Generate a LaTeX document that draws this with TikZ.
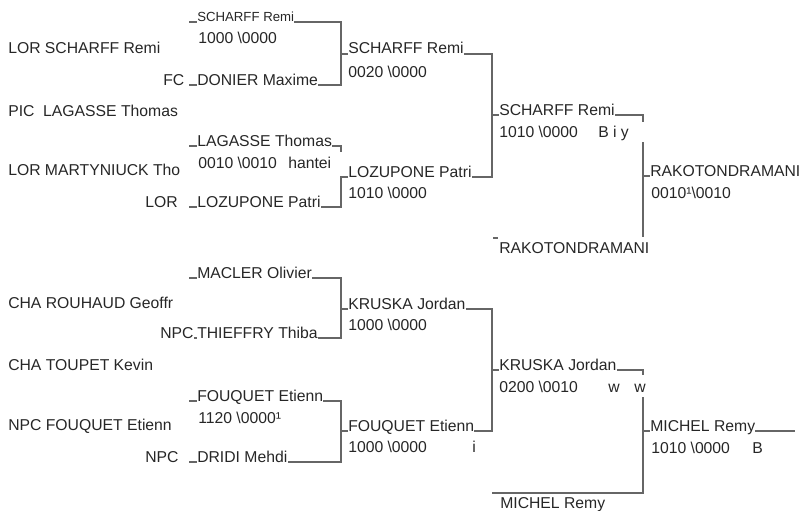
\documentclass[tikz,border=0pt]{standalone}
\usepackage{fontspec}
\setmainfont{Liberation Sans}
\begin{document}
\begin{tikzpicture}%
	[x={(0.75pt, 0pt)},
	y={(0pt, -0.75pt)},
	edge/.style={color=black!60, line width=0.8pt},
	entry/.style={anchor=base west, inner sep=0pt, text=black!85, font=\fontsize{11.8}{14}\selectfont},
	smallentry/.style={entry, font=\fontsize{9.9}{12}\selectfont}]
%
\useasboundingbox (0,0) rectangle (802,510);
%%
%%
%% Bracket columns
%%
\coordinate (k1) at (341,0);
\coordinate (k2) at (492,0);
\coordinate (k3) at (643,0);
%%
%%
%% Left column
%%
\node[entry] (lor1) at (8,54) {LOR SCHARFF Remi};
\node[entry] (pic1) at (8,116) {PIC~~LAGASSE Thomas};
\node[entry] (lor2) at (8,175) {LOR MARTYNIUCK Tho};
\node[entry] (cha1) at (8,308) {CHA ROUHAUD Geoffr};
\node[entry] (cha2) at (8,370) {CHA TOUPET Kevin};
\node[entry] (npc1) at (8,430) {NPC FOUQUET Etienn};
%
\node[entry] (fc) at (163,85) {FC};
\node[entry] (lor3) at (145,207) {LOR};
\node[entry] (npc2) at (160,338) {NPC};
\node[entry] (npc3) at (145,462) {NPC};
%%
%%
%% First round
%%
\node[smallentry] (scharffA) at (197,22) {SCHARFF Remi};
\node[entry] (scoreA) at (198,44) {1000 \textbackslash0000};
\node[entry] (donier) at (197,85) {DONIER Maxime};
\node[entry] (lagasse) at (197,146) {LAGASSE Thomas};
\node[entry] (scoreB) at (198,168) {0010 \textbackslash0010};
\node[entry] (hantei) at (288,168) {hantei};
\node[entry] (lozuponeA) at (197,207) {LOZUPONE Patri};
\node[entry] (macler) at (197,278) {MACLER Olivier};
\node[entry] (thieffry) at (197,338) {THIEFFRY Thiba};
\node[entry] (fouquetA) at (197,401) {FOUQUET Etienn};
\node[entry] (scoreC) at (198,423) {1120 \textbackslash0000¹};
\node[entry] (dridi) at (197,462) {DRIDI Mehdi};
%%
%%
%% Second round
%%
\node[entry] (scharffB) at (348,54) {SCHARFF Remi};
\node[entry] (scoreD) at (348,77) {0020 \textbackslash0000};
\node[entry] (lozuponeB) at (348,177) {LOZUPONE Patri};
\node[entry] (scoreE) at (348,198) {1010 \textbackslash0000};
\node[entry] (kruskaA) at (348,309) {KRUSKA Jordan};
\node[entry] (scoreF) at (348,330) {1000 \textbackslash0000};
\node[entry] (fouquetB) at (348,431) {FOUQUET Etienn};
\node[entry] (scoreG) at (348,452) {1000 \textbackslash0000};
\node[entry] (markI) at (472,452) {i};
%%
%%
%% Semi finals
%%
\node[entry] (scharffC) at (499,115) {SCHARFF Remi};
\node[entry] (scoreH) at (499,137) {1010 \textbackslash0000};
\node[entry] (markBiy) at (598,137) {B i y};
\node[entry] (rakotoA) at (499,253) {RAKOTONDRAMANI};
\node[entry] (kruskaB) at (499,370) {KRUSKA Jordan};
\node[entry] (scoreI) at (499,392) {0200 \textbackslash0010};
\node[entry] (markW1) at (608,392) {w};
\node[entry] (markW2) at (634,392) {w};
\node[entry] (michelA) at (500,508) {MICHEL Remy};
%%
%%
%% Finals
%%
\node[entry] (rakotoB) at (650,176) {RAKOTONDRAMANI};
\node[entry] (scoreJ) at (651,198) {0010¹\textbackslash0010};
\node[entry] (michelB) at (650,431) {MICHEL Remy};
\node[entry] (scoreK) at (651,453) {1010 \textbackslash0000};
\node[entry] (markB) at (752,453) {B};
\coordinate (tail) at (795,431);
%%
%%
%% Drawing the leading ticks
%%
\draw[edge] (189,22) -- (scharffA.base west);
\draw[edge] (189,85) -- (donier.base west);
\draw[edge] (189,146) -- (lagasse.base west);
\draw[edge] (189,207) -- (lozuponeA.base west);
\draw[edge] (189,278) -- (macler.base west);
\draw[edge] (npc2.base east) -- (thieffry.base west);
\draw[edge] (189,401) -- (fouquetA.base west);
\draw[edge] (189,462) -- (dridi.base west);
\draw[edge] (493,238) -- (498,238);
%%
%%
%% Drawing the brackets
%%
\draw[edge] (scharffA.base east) -- (scharffA.base east -| k1) -- (donier.base east -| k1) -- (donier.base east);
\draw[edge] (scharffB.base -| k1) -- (scharffB.base west);
\draw[edge] (lagasse.base east) -- (lagasse.base east -| k1) -- ++(0,6);
\draw[edge] (lozuponeB.base west) -- (lozuponeB.base -| k1) -- (lozuponeA.base east -| k1) -- (lozuponeA.base east);
\draw[edge] (macler.base east) -- (macler.base east -| k1) -- (thieffry.base east -| k1) -- (thieffry.base east);
\draw[edge] (kruskaA.base -| k1) -- (kruskaA.base west);
\draw[edge] (fouquetA.base east) -- (fouquetA.base east -| k1) -- (dridi.base east -| k1) -- (dridi.base east);
\draw[edge] (fouquetB.base -| k1) -- (fouquetB.base west);
%
\draw[edge] (scharffB.base east) -- (scharffB.base east -| k2) -- (lozuponeB.base east -| k2) -- (lozuponeB.base east);
\draw[edge] (scharffC.base -| k2) -- (scharffC.base west);
\draw[edge] (kruskaA.base east) -- (kruskaA.base east -| k2) -- (fouquetB.base east -| k2) -- (fouquetB.base east);
\draw[edge] (kruskaB.base -| k2) -- (kruskaB.base west);
%
\draw[edge] (scharffC.base east) -- (scharffC.base east -| k3) -- ++(0,7);
\draw[edge] (643,142) -- (643,237);
\draw[edge] (rakotoB.base -| k3) -- (rakotoB.base west);
\draw[edge] (kruskaB.base east) -- (kruskaB.base east -| k3) -- ++(0,5);
\draw[edge] (643,397) -- (643,493) -- (492,493);
\draw[edge] (michelB.base -| k3) -- (michelB.base west);
\draw[edge] (michelB.base east) -- (tail);

\end{tikzpicture}
\end{document}
